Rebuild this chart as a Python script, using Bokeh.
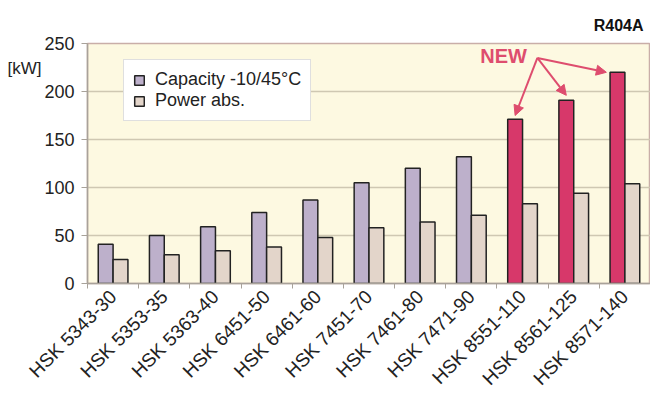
import numpy as np
from math import pi
from bokeh.plotting import figure
from bokeh.models import (Range1d, FixedTicker, Label, Arrow, NormalHead,
                          Legend, LegendItem, ColumnDataSource, LinearAxis)
from bokeh.embed import file_html
from bokeh.resources import INLINE

categories = ["HSK 5343-30", "HSK 5353-35", "HSK 5363-40", "HSK 6451-50",
              "HSK 6461-60", "HSK 7451-70", "HSK 7461-80", "HSK 7471-90",
              "HSK 8551-110", "HSK 8561-125", "HSK 8571-140"]
capacity = [41, 50, 59, 74, 87, 105, 120, 132, 171, 191, 220]
power = [25, 30, 34, 38, 48, 58, 64, 71, 83, 94, 104]
new_models = ["HSK 8551-110", "HSK 8561-125", "HSK 8571-140"]
y_ticks = [0, 50, 100, 150, 200, 250]

FONT = "Liberation Sans"
C_CAP = "#BDB0CB"
C_NEW = "#D7386A"
C_POW = "#E3D5CA"
C_NEWTXT = "#DE4D6E"

n = len(categories)
idx = np.arange(n)
centers = idx + 0.5
bw = 0.29
cap_x = centers - bw / 2
pow_x = centers + bw / 2
is_new = [c in new_models for c in categories]

old_src = ColumnDataSource(dict(x=[cap_x[i] for i in range(n) if not is_new[i]],
                                top=[capacity[i] for i in range(n) if not is_new[i]]))
new_src = ColumnDataSource(dict(x=[cap_x[i] for i in range(n) if is_new[i]],
                                top=[capacity[i] for i in range(n) if is_new[i]]))
pow_src = ColumnDataSource(dict(x=list(pow_x), top=power))

p = figure(width=650, height=399, x_range=Range1d(0, n), y_range=Range1d(0, 250),
           output_backend="svg", toolbar_location=None,
           min_border_left=87, min_border_right=0, min_border_top=43, min_border_bottom=116)
p.background_fill_color = "#FDF9E1"
p.border_fill_color = "white"
p.outline_line_color = "#C9AEA8"
p.outline_line_width = 1.5

p.title.text = "R404A"
p.title.align = "right"
p.title.text_font = FONT
p.title.text_font_size = "16px"
p.title.text_font_style = "bold"
p.title.text_color = "#111111"
p.title.standoff = 20
p.title.offset = 7

r_old = p.vbar(x="x", top="top", width=bw, source=old_src, fill_color=C_CAP,
               line_color="#222222", line_width=1.5)
r_new = p.vbar(x="x", top="top", width=bw, source=new_src, fill_color=C_NEW,
               line_color="#222222", line_width=1.5)
r_pow = p.vbar(x="x", top="top", width=bw, source=pow_src, fill_color=C_POW,
               line_color="#222222", line_width=1.5)

# axes
p.xgrid.visible = False
p.ygrid.grid_line_color = "#CFC8B2"
p.ygrid.grid_line_width = 1.5
p.ygrid.ticker = FixedTicker(ticks=y_ticks)

p.yaxis.ticker = FixedTicker(ticks=y_ticks)
p.yaxis.axis_line_color = "#A8A29A"
p.yaxis.axis_line_width = 1.5
p.yaxis.major_tick_line_color = "#A8A29A"
p.yaxis.major_tick_out = 6
p.yaxis.major_tick_in = 0
p.yaxis.minor_tick_line_color = None
p.yaxis.major_label_text_font = FONT
p.yaxis.major_label_text_font_size = "18px"
p.yaxis.major_label_text_color = "#222222"
p.yaxis.major_label_standoff = 7

# unit label as a second (invisible) left axis, label aligned to the top end
unit_axis = LinearAxis(axis_label="\n\n[kW]", axis_label_orientation="horizontal",
                       ticker=FixedTicker(ticks=[]),
                       axis_line_color=None, major_tick_line_color=None,
                       minor_tick_line_color=None, major_label_text_font_size="0px",
                       axis_label_text_font=FONT, axis_label_text_font_size="17px",
                       axis_label_text_font_style="normal",
                       axis_label_text_line_height=1.3,
                       axis_label_text_color="#222222", axis_label_standoff=0)
if "axis_label_align" in unit_axis.properties():
    unit_axis.axis_label_align = "end"
p.add_layout(unit_axis, "left")

p.xaxis.ticker = FixedTicker(ticks=list(centers), minor_ticks=list(range(n + 1)))
p.xaxis.major_label_overrides = {float(c): lab for c, lab in zip(centers, categories)}
p.xaxis.major_tick_line_color = None
p.xaxis.minor_tick_line_color = "#A8A29A"
p.xaxis.minor_tick_out = 5
p.xaxis.minor_tick_in = 0
p.xaxis.axis_line_color = "#A8A29A"
p.xaxis.axis_line_width = 1.5
p.xaxis.major_label_orientation = pi / 4
p.xaxis.major_label_text_font = FONT
p.xaxis.major_label_text_font_size = "19px"
p.xaxis.major_label_text_line_height = 1.0
p.xaxis.major_label_text_color = "#222222"
p.xaxis.major_label_standoff = 4

# legend
legend = Legend(items=[LegendItem(label="Capacity -10/45°C", renderers=[r_old]),
                       LegendItem(label="Power abs.", renderers=[r_pow])],
                location=(36, 162))
legend.label_text_font = FONT
legend.label_text_font_size = "18px"
legend.label_text_color = "#222222"
legend.glyph_width = 12
legend.glyph_height = 12
legend.label_standoff = 10
legend.spacing = 0
legend.padding = 9
legend.margin = 0
legend.border_line_color = "#BFBFBF"
legend.border_line_width = 1.5
legend.background_fill_color = "white"
legend.background_fill_alpha = 1
p.add_layout(legend, "center")

# NEW annotation
new_idx = [i for i in range(n) if is_new[i]]
sx, sy = new_idx[0] + 0.79, 235
p.add_layout(Label(x=new_idx[0] + 0.13, y=237, text="NEW", text_font=FONT,
                   text_font_size="20px", text_font_style="bold", text_color=C_NEWTXT,
                   text_baseline="middle", text_align="center"))
ends = [(cap_x[new_idx[0]], capacity[new_idx[0]] + 4),
        (cap_x[new_idx[1]], capacity[new_idx[1]] + 5),
        (cap_x[new_idx[2]] - bw * 0.75, capacity[new_idx[2]])]
for ex, ey in ends:
    p.add_layout(Arrow(x_start=sx, y_start=sy, x_end=ex, y_end=ey,
                       line_color=C_NEWTXT, line_width=2,
                       end=NormalHead(size=10, fill_color=C_NEWTXT, line_color=C_NEWTXT)))

open("out.html", "w").write(file_html(p, INLINE))
